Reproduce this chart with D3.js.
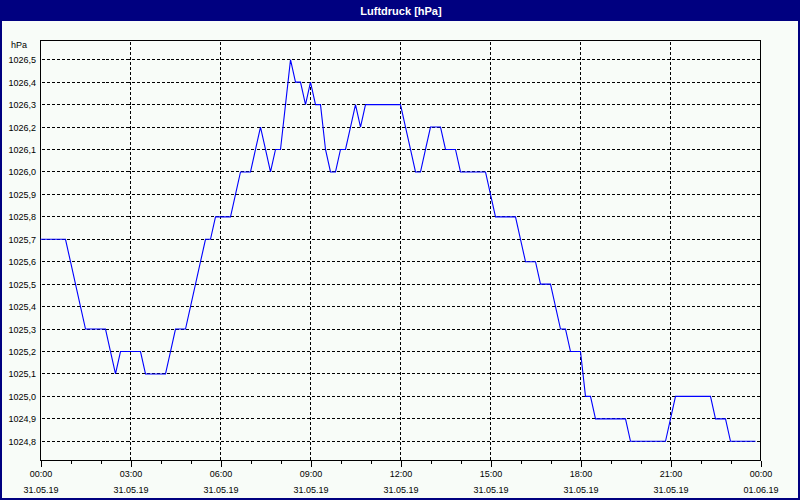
<!DOCTYPE html>
<html>
<head>
<meta charset="utf-8">
<script src="https://cdn.jsdelivr.net/npm/d3@7"></script>
<style>
  html, body { margin: 0; padding: 0; background: #f8fcf8; }
  svg { display: block; font-family: "Liberation Sans", Arial, sans-serif; }
</style>
</head>
<body>
<svg id="chart" width="800" height="500"></svg>
<script>
// ---- data (10-minute readings, 31.05.19 00:00 .. 23:50) ----
const title = "Luftdruck [hPa]";
const unitLabel = "hPa";
const startTime = new Date(2019, 4, 31, 0, 0);
const stepMinutes = 10;
const pressure = [
  1025.7, 1025.7, 1025.7, 1025.7, 1025.7, 1025.7, 1025.6, 1025.5, 1025.4, 1025.3, 1025.3, 1025.3,
  1025.3, 1025.3, 1025.2, 1025.1, 1025.2, 1025.2, 1025.2, 1025.2, 1025.2, 1025.1, 1025.1, 1025.1,
  1025.1, 1025.1, 1025.2, 1025.3, 1025.3, 1025.3, 1025.4, 1025.5, 1025.6, 1025.7, 1025.7, 1025.8,
  1025.8, 1025.8, 1025.8, 1025.9, 1026.0, 1026.0, 1026.0, 1026.1, 1026.2, 1026.1, 1026.0, 1026.1,
  1026.1, 1026.3, 1026.5, 1026.4, 1026.4, 1026.3, 1026.4, 1026.3, 1026.3, 1026.1, 1026.0, 1026.0,
  1026.1, 1026.1, 1026.2, 1026.3, 1026.2, 1026.3, 1026.3, 1026.3, 1026.3, 1026.3, 1026.3, 1026.3,
  1026.3, 1026.2, 1026.1, 1026.0, 1026.0, 1026.1, 1026.2, 1026.2, 1026.2, 1026.1, 1026.1, 1026.1,
  1026.0, 1026.0, 1026.0, 1026.0, 1026.0, 1026.0, 1025.9, 1025.8, 1025.8, 1025.8, 1025.8, 1025.8,
  1025.7, 1025.6, 1025.6, 1025.6, 1025.5, 1025.5, 1025.5, 1025.4, 1025.3, 1025.3, 1025.2, 1025.2,
  1025.2, 1025.0, 1025.0, 1024.9, 1024.9, 1024.9, 1024.9, 1024.9, 1024.9, 1024.9, 1024.8, 1024.8,
  1024.8, 1024.8, 1024.8, 1024.8, 1024.8, 1024.8, 1024.9, 1025.0, 1025.0, 1025.0, 1025.0, 1025.0,
  1025.0, 1025.0, 1025.0, 1024.9, 1024.9, 1024.9, 1024.8, 1024.8, 1024.8, 1024.8, 1024.8, 1024.8
];
const yTicks = [1024.8, 1024.9, 1025.0, 1025.1, 1025.2, 1025.3, 1025.4, 1025.5, 1025.6, 1025.7,
                1025.8, 1025.9, 1026.0, 1026.1, 1026.2, 1026.3, 1026.4, 1026.5];
const yTickLabels = ["1024,8", "1024,9", "1025,0", "1025,1", "1025,2", "1025,3", "1025,4", "1025,5", "1025,6",
                     "1025,7", "1025,8", "1025,9", "1026,0", "1026,1", "1026,2", "1026,3", "1026,4", "1026,5"];
const xTickHours = [0, 3, 6, 9, 12, 15, 18, 21, 24];
const xTimeLabels = ["00:00", "03:00", "06:00", "09:00", "12:00", "15:00", "18:00", "21:00", "00:00"];
const xDateLabels = ["31.05.19", "31.05.19", "31.05.19", "31.05.19", "31.05.19", "31.05.19", "31.05.19", "31.05.19", "01.06.19"];

// ---- layout ----
const W = 800, H = 500;
const plot = { left: 40.5, right: 760.5, top: 40.5, bottom: 460.5 };
const svg = d3.select("#chart");
const FONT = "Liberation Sans, Arial, sans-serif";
const FS = "9px";

const hourMs = 3600 * 1000;
const endTime = new Date(startTime.getTime() + 24 * hourMs);
const x = d3.scaleTime().domain([startTime, endTime]).range([plot.left, plot.right]);
const y = d3.scaleLinear().domain([1024.8, 1026.5]).range([441.3, 59.7]);
const yPix = v => Math.round(y(v) - 0.5) + 0.5;

const data = pressure.map((v, i) => ({ t: new Date(startTime.getTime() + i * stepMinutes * 60000), v }));

// background
svg.append("rect").attr("width", W).attr("height", H).attr("fill", "#f8fcf8");

// title bar
svg.append("rect").attr("x", 0).attr("y", 0).attr("width", W).attr("height", 21).attr("fill", "#000080");
svg.append("text").attr("x", 401).attr("y", 14.5).attr("text-anchor", "middle")
  .attr("fill", "#ffffff").attr("font-weight", "bold").attr("font-size", "11px").text(title);

// outer frame
svg.append("rect").attr("x", 1).attr("y", 1).attr("width", W - 2).attr("height", H - 2)
  .attr("fill", "none").attr("stroke", "#000080").attr("stroke-width", 2);

// gridlines
const grid = svg.append("g").attr("stroke", "#000").attr("stroke-width", 1)
  .attr("stroke-dasharray", "3,2").attr("shape-rendering", "crispEdges");
grid.selectAll("line.h").data(yTicks).join("line").attr("class", "h")
  .attr("x1", plot.left + 1).attr("x2", plot.right).attr("y1", d => yPix(d)).attr("y2", d => yPix(d));
grid.selectAll("line.v").data(xTickHours.slice(1, -1)).join("line").attr("class", "v")
  .attr("x1", h => x(new Date(startTime.getTime() + h * hourMs)))
  .attr("x2", h => x(new Date(startTime.getTime() + h * hourMs)))
  .attr("y1", plot.top + 1).attr("y2", plot.bottom);

// y labels
svg.append("g").selectAll("text").data(yTicks).join("text")
  .attr("x", 36).attr("y", d => yPix(d)).attr("dy", "0.35em").attr("text-anchor", "end")
  .attr("font-size", FS).attr("fill", "#000").text((d, i) => yTickLabels[i]);
svg.append("text").attr("x", 19).attr("y", 48).attr("text-anchor", "middle")
  .attr("font-size", FS).attr("fill", "#000").text(unitLabel);

// x axis (minor hourly ticks, major every 3h)
const hourTicks = d3.range(0, 25).map(h => new Date(startTime.getTime() + h * hourMs));
const axMinor = d3.axisBottom(x).tickValues(hourTicks).tickSize(3).tickFormat("").tickSizeOuter(0);
const axMajor = d3.axisBottom(x)
  .tickValues(xTickHours.map(h => new Date(startTime.getTime() + h * hourMs)))
  .tickSize(6).tickSizeOuter(0).tickFormat((d, i) => xTimeLabels[i]);
const gMinor = svg.append("g").attr("transform", `translate(0,${plot.bottom})`).call(axMinor);
const gMajor = svg.append("g").attr("transform", `translate(0,${plot.bottom})`).call(axMajor);
[gMinor, gMajor].forEach(g => {
  g.select(".domain").remove();
  g.selectAll("line").attr("stroke", "#000").attr("shape-rendering", "crispEdges");
});
gMajor.selectAll(".tick text").attr("y", 16).attr("dy", 0).attr("font-size", FS)
  .attr("fill", "#000").attr("font-family", FONT);
gMajor.selectAll(".tick").append("text").attr("y", 32).attr("fill", "#000")
  .attr("font-size", FS).attr("text-anchor", "middle").attr("font-family", FONT)
  .text((d, i) => xDateLabels[i]);

// plot frame
svg.append("rect").attr("x", plot.left).attr("y", plot.top)
  .attr("width", plot.right - plot.left).attr("height", plot.bottom - plot.top)
  .attr("fill", "none").attr("stroke", "#000").attr("stroke-width", 1)
  .attr("shape-rendering", "crispEdges");

// data line
const line = d3.line().x(d => x(d.t)).y(d => y(d.v));
svg.append("path").datum(data).attr("d", line)
  .attr("fill", "none").attr("stroke", "#0000ff").attr("stroke-width", 1.1);
</script>
</body>
</html>
